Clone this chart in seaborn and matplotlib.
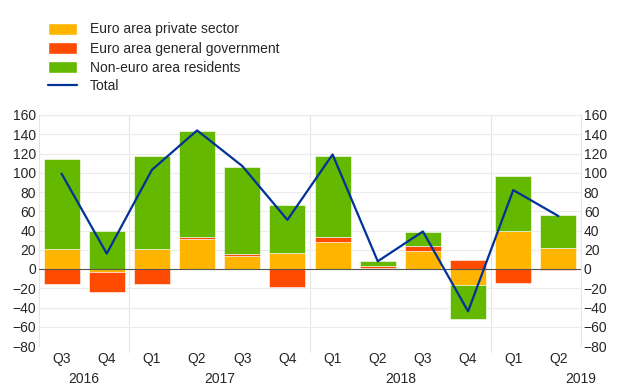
import numpy as np
import pandas as pd
import matplotlib.pyplot as plt
import matplotlib.patches as mpatches
from matplotlib.lines import Line2D
import seaborn as sns

# quarterly data (EUR billions)
quarters = ["Q3", "Q4", "Q1", "Q2", "Q3", "Q4", "Q1", "Q2", "Q3", "Q4", "Q1", "Q2"]
years = ["2016", "2017", "2018", "2019"]
private = [21, -3, 20.5, 31.5, 14, 16.5, 28, 1, 18.5, -16.5, 39.5, 22]
government = [-15.5, -20.5, -15.5, 2, 2, -18.5, 5.5, 2.5, 5.5, 9, -14.5, -1.5]
non_euro = [93, 39, 97, 110, 90, 50.5, 83.5, 5, 14.5, -35.5, 57, 34]
total = [99, 16, 103, 144, 107, 51, 119, 8, 39, -44, 82, 55]

series = {
    "Euro area private sector": (private, "#FFB400"),
    "Euro area general government": (government, "#FF4B00"),
    "Non-euro area residents": (non_euro, "#65B800"),
}

sns.set_style("white")
plt.rcParams["font.family"] = ["Liberation Sans", "DejaVu Sans"]
plt.rcParams["font.size"] = 10

fig = plt.figure(figsize=(6.2, 3.87), dpi=100)
ax = fig.add_axes([39 / 620, 41 / 387, 542 / 620, 231 / 387])

x = np.arange(len(quarters))
pos_base = np.zeros(len(quarters))
neg_base = np.zeros(len(quarters))
handles = []
for label, (vals, color) in series.items():
    v = np.array(vals, dtype=float)
    bottom = np.where(v >= 0, pos_base, neg_base)
    ax.bar(x, v, bottom=bottom, width=0.8, color=color,
           edgecolor="white", linewidth=0.4, zorder=2)
    pos_base += np.where(v >= 0, v, 0)
    neg_base += np.where(v < 0, v, 0)
    handles.append(mpatches.Patch(facecolor=color, label=label))

df = pd.DataFrame({"x": x, "total": total})
sns.lineplot(data=df, x="x", y="total", ax=ax, color="#003299",
             linewidth=1.6, zorder=4)
handles.append(Line2D([], [], color="#003299", linewidth=1.6, label="Total"))

ax.set_xlim(-0.5, len(quarters) - 0.5)
ax.set_ylim(-80, 160)
ax.set_yticks(np.arange(-80, 161, 20))
ax.set_xticks(x)
ax.set_xticklabels(quarters)
ax.set_xlabel("")
ax.set_ylabel("")
ax.grid(axis="y", color="#ebebeb", linewidth=0.8, zorder=0)
ax.axhline(0, color="#555555", linewidth=0.8, zorder=3)
ax.tick_params(axis="y", length=0, pad=2, labelsize=10)
ax.tick_params(axis="x", length=0, pad=4, labelsize=10)

# year separators
for sep in [1.5, 5.5, 9.5]:
    ax.plot([sep, sep], [-0.025, 1], color="#e6e6e6", linewidth=0.8,
            transform=ax.get_xaxis_transform(), clip_on=False, zorder=0)

# year labels
for yr, xc in zip(years, [0.5, 3.5, 7.5, 11.5]):
    ax.text(xc, -0.142, yr, ha="center", va="center", fontsize=10,
            transform=ax.get_xaxis_transform())

for side in ["top", "bottom"]:
    ax.spines[side].set_visible(False)
for side in ["left", "right"]:
    ax.spines[side].set_color("#e6e6e6")
    ax.spines[side].set_linewidth(0.8)

ax2 = ax.twinx()
ax2.set_ylim(-80, 160)
ax2.set_yticks(np.arange(-80, 161, 20))
ax2.tick_params(length=0, pad=2, labelsize=10)
for side in ["top", "bottom", "left", "right"]:
    ax2.spines[side].set_visible(False)

fig.legend(handles=handles, loc="upper left", bbox_to_anchor=(48 / 620, 1 - 22.5 / 387),
           frameon=False, borderpad=0, borderaxespad=0, handlelength=2.1,
           handleheight=1.0, handletextpad=0.9, labelspacing=0.36, fontsize=10)

fig.savefig("out.png", dpi=100)
